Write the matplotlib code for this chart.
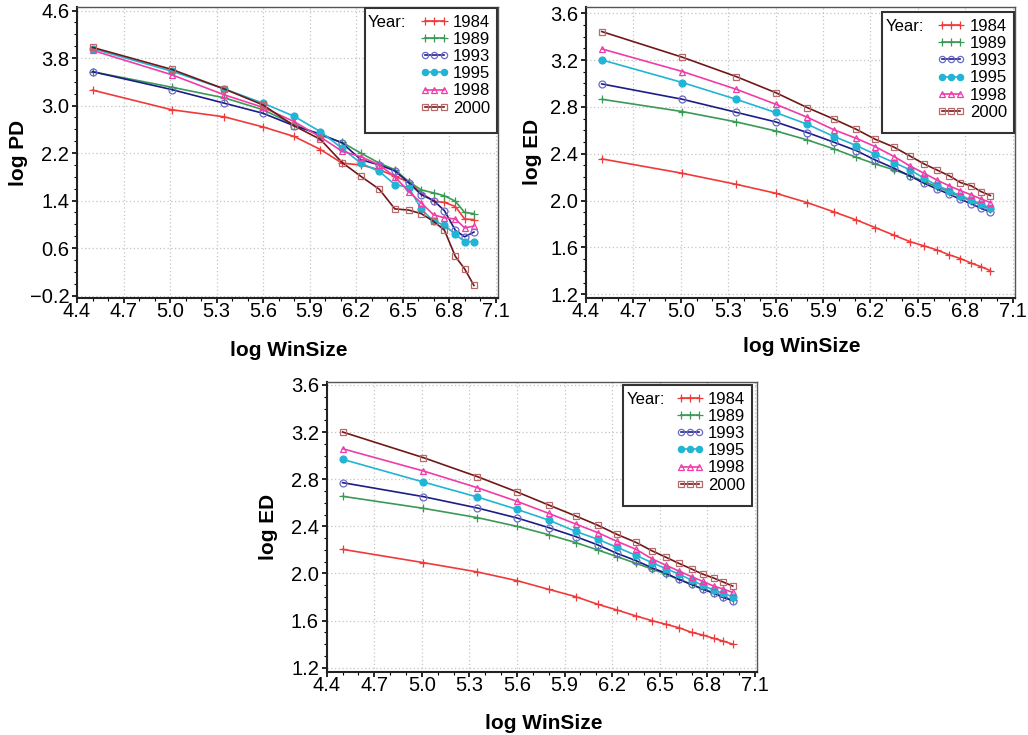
import matplotlib
matplotlib.use("Agg")
import matplotlib.pyplot as plt
from matplotlib.lines import Line2D
from matplotlib.patches import Rectangle

plt.rcParams['font.family'] = ['Liberation Sans', 'DejaVu Sans']

# log window size (same for all panels)
win = [4.50, 5.01, 5.35, 5.60, 5.80, 5.97, 6.11, 6.23, 6.35, 6.45,
       6.54, 6.62, 6.70, 6.77, 6.84, 6.90, 6.96]
years = ["1984", "1989", "1993", "1995", "1998", "2000"]

# panel 1: log PD
pd_1984 = [3.26, 2.93, 2.81, 2.64, 2.48, 2.26, 2.03, 2.00, 1.92, 1.81, 1.71, 1.53, 1.39, 1.37, 1.30, 1.09, 1.08]
pd_1989 = [3.57, 3.31, 3.13, 2.93, 2.68, 2.50, 2.38, 2.20, 2.03, 1.92, 1.72, 1.58, 1.53, 1.48, 1.39, 1.20, 1.18]
pd_1993 = [3.57, 3.27, 3.04, 2.87, 2.66, 2.52, 2.37, 2.09, 2.00, 1.90, 1.70, 1.50, 1.40, 1.23, 0.90, 0.79, 0.87]
pd_1995 = [3.96, 3.58, 3.28, 3.04, 2.82, 2.56, 2.28, 2.03, 1.89, 1.67, 1.62, 1.26, 1.05, 0.99, 0.83, 0.71, 0.71]
pd_1998 = [3.93, 3.52, 3.18, 2.97, 2.73, 2.47, 2.23, 2.14, 2.00, 1.80, 1.55, 1.36, 1.16, 1.11, 1.09, 0.94, 0.97]
pd_2000 = [3.98, 3.61, 3.28, 3.01, 2.66, 2.43, 2.04, 1.81, 1.59, 1.26, 1.24, 1.18, 1.05, 0.90, 0.46, 0.25, -0.03]

# panel 2: log ED (top right)
eda_1984 = [2.356, 2.233, 2.139, 2.063, 1.983, 1.903, 1.835, 1.770, 1.704, 1.650, 1.613, 1.579, 1.536, 1.505, 1.465, 1.436, 1.402]
eda_1989 = [2.865, 2.760, 2.672, 2.595, 2.518, 2.441, 2.370, 2.313, 2.262, 2.213, 2.162, 2.120, 2.074, 2.034, 1.997, 1.963, 1.929]
eda_1993 = [2.996, 2.865, 2.754, 2.672, 2.581, 2.498, 2.427, 2.347, 2.276, 2.211, 2.148, 2.100, 2.054, 2.011, 1.972, 1.934, 1.903]
eda_1995 = [3.201, 3.008, 2.865, 2.752, 2.652, 2.547, 2.470, 2.396, 2.325, 2.262, 2.191, 2.131, 2.085, 2.040, 2.006, 1.969, 1.937]
eda_1998 = [3.295, 3.102, 2.951, 2.823, 2.712, 2.604, 2.532, 2.461, 2.376, 2.296, 2.233, 2.176, 2.125, 2.085, 2.048, 2.014, 1.983]
eda_2000 = [3.443, 3.224, 3.059, 2.922, 2.794, 2.695, 2.609, 2.524, 2.456, 2.381, 2.313, 2.262, 2.211, 2.154, 2.125, 2.077, 2.043]

# panel 3: log ED (bottom)
edb_1984 = [2.205, 2.092, 2.013, 1.939, 1.865, 1.803, 1.738, 1.690, 1.639, 1.600, 1.568, 1.540, 1.500, 1.478, 1.449, 1.426, 1.400]
edb_1989 = [2.655, 2.553, 2.474, 2.400, 2.329, 2.262, 2.199, 2.143, 2.086, 2.038, 1.993, 1.950, 1.907, 1.868, 1.837, 1.803, 1.774]
edb_1993 = [2.771, 2.652, 2.556, 2.471, 2.389, 2.313, 2.242, 2.171, 2.109, 2.049, 2.001, 1.950, 1.907, 1.868, 1.831, 1.797, 1.769]
edb_1995 = [2.969, 2.776, 2.649, 2.544, 2.453, 2.357, 2.290, 2.222, 2.154, 2.092, 2.041, 1.995, 1.944, 1.899, 1.860, 1.831, 1.803]
edb_1998 = [3.059, 2.870, 2.728, 2.612, 2.510, 2.420, 2.346, 2.273, 2.205, 2.125, 2.069, 2.021, 1.973, 1.933, 1.893, 1.868, 1.839]
edb_2000 = [3.201, 2.983, 2.822, 2.692, 2.581, 2.488, 2.409, 2.332, 2.264, 2.193, 2.137, 2.086, 2.038, 1.995, 1.961, 1.927, 1.893]

# tick positions
x_ticks = [4.4, 4.7, 5.0, 5.3, 5.6, 5.9, 6.2, 6.5, 6.8, 7.1]
pd_ticks = [-0.2, 0.6, 1.4, 2.2, 3.0, 3.8, 4.6]
ed_ticks = [1.2, 1.6, 2.0, 2.4, 2.8, 3.2, 3.6]

# line colour, marker, marker face, marker edge
styles = [
    ("#f03a3a", "+", "#f03a3a", "#f03a3a"),
    ("#3a9a55", "+", "#3a9a55", "#3a9a55"),
    ("#1c1c86", "o", "none", "#6a6ac8"),
    ("#22b4d4", "o", "#22b4d4", "#22b4d4"),
    ("#f03ca8", "^", "none", "#f03ca8"),
    ("#701818", "s", "none", "#b86a6a"),
]

fig = plt.figure(figsize=(10.28, 7.35), dpi=100)

panels = [
    # rect, series, ylabel, ylim, yticks, legend box (x0, y0, x1, y1), ylabel x, xlabel y
    ([0.0749, 0.5946, 0.4095, 0.3959], [pd_1984, pd_1989, pd_1993, pd_1995, pd_1998, pd_2000],
     "log PD", (-0.24, 4.66), pd_ticks, (0.683, 0.567, 0.997, 0.997), -0.117, -0.148),
    ([0.5700, 0.5950, 0.4173, 0.3960], [eda_1984, eda_1989, eda_1993, eda_1995, eda_1998, eda_2000],
     "log ED", (1.171, 3.656), ed_ticks, (0.691, 0.565, 0.997, 0.981), -0.103, -0.135),
    ([0.3178, 0.0861, 0.4189, 0.3946], [edb_1984, edb_1989, edb_1993, edb_1995, edb_1998, edb_2000],
     "log ED", (1.166, 3.628), ed_ticks, (0.689, 0.572, 0.988, 0.989), -0.113, -0.145),
]

for rect, series, ylabel, ylim, yticks, box, ylab_x, xlab_y in panels:
    ax = fig.add_axes(rect)
    handles = []
    for vals, (lc, mk, mf, me) in zip(series, styles):
        ax.plot(win, vals, color=lc, lw=1.2, marker=mk, ms=5 if mk != "+" else 6,
                mfc=mf, mec=me, mew=0.9, zorder=3)
        handles.append(Line2D([], [], color=lc, lw=1.2, marker=mk,
                              ms=4.5 if mk != "+" else 6, mfc=mf, mec=me, mew=0.9))
    ax.set_xlim(4.4, 7.115)
    ax.set_ylim(*ylim)
    ax.set_xticks(x_ticks)
    ax.set_xticks([4.4 + 0.1 * i for i in range(28)], minor=True)
    ystep = (yticks[1] - yticks[0]) / 4
    ax.set_yticks(yticks)
    ax.set_yticks([yticks[0] + ystep * i for i in range(25)], minor=True)
    ax.set_xticklabels([f"{t:.1f}" for t in x_ticks])
    ax.set_yticklabels([f"{t:.1f}".replace("-", "\u2212") for t in yticks])
    ax.grid(True, which="major", color="#c4c4c4", ls=(0, (1, 2)), lw=0.9, zorder=0)
    ax.tick_params(which="major", direction="out", length=3.6, width=1.2, labelsize=14.5)
    ax.tick_params(axis="x", which="major", pad=-0.5)
    ax.tick_params(axis="y", which="major", pad=2)
    ax.tick_params(which="minor", direction="out", length=2.2, width=0.8)
    for side in ("top", "right"):
        ax.spines[side].set_color("#555555")
        ax.spines[side].set_linewidth(1.0)
    for side in ("left", "bottom"):
        ax.spines[side].set_color("#222222")
        ax.spines[side].set_linewidth(1.5)
    ax.set_xlabel("log WinSize", fontsize=15, fontweight="bold")
    ax.set_ylabel(ylabel, fontsize=15, fontweight="bold")
    ax.xaxis.set_label_coords(0.503, xlab_y)
    ax.yaxis.set_label_coords(ylab_x, 0.5)

    x0, y0, x1, y1 = box
    ax.add_patch(Rectangle((x0, y0), x1 - x0, y1 - y0, transform=ax.transAxes,
                           facecolor="white", edgecolor="#333333", lw=1.5, zorder=5))
    leg = ax.legend(handles, years, loc="upper right", bbox_to_anchor=(x1 - 0.008, y1 - 0.012),
                    frameon=False, fontsize=12, numpoints=3, handlelength=1.7,
                    handletextpad=0.25, labelspacing=0.13, borderpad=0.2, borderaxespad=0)
    leg.set_zorder(6)
    fig.canvas.draw()
    tb = leg.get_texts()[0].get_window_extent()
    ty = ax.transAxes.inverted().transform((0, (tb.y0 + tb.y1) / 2))[1]
    ax.text(x0 + 0.008, ty, "Year:", transform=ax.transAxes, fontsize=12,
            va="center", ha="left", zorder=7)

fig.savefig("out.png", dpi=100)
